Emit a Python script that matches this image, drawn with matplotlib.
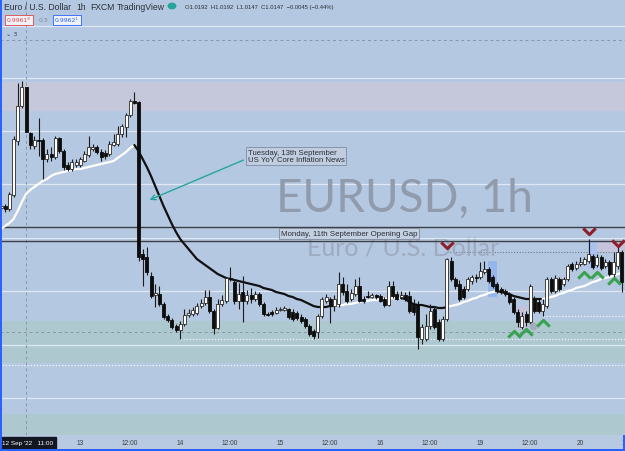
import numpy as np
import matplotlib
matplotlib.use("Agg")
import matplotlib.pyplot as plt
from matplotlib.path import Path
from matplotlib.patches import Rectangle
from matplotlib.transforms import blended_transform_factory

# ---------------- data (EURUSD 1h, FXCM) ----------------
opens = [1.0071, 1.0073, 1.0070, 1.0084, 1.0138, 1.0173, 1.0192, 1.0146, 1.0133, 1.0139,
         1.0139, 1.0120, 1.0125, 1.0122, 1.0141, 1.0128, 1.0114, 1.0110, 1.0114, 1.0114,
         1.0118, 1.0124, 1.0130, 1.0132, 1.0127, 1.0126, 1.0125, 1.0134, 1.0135, 1.0145,
         1.0152, 1.0164, 1.0178, 1.0177, 1.0025, 1.0022, 1.0003, 0.9984, 0.9985, 0.9975,
         0.9963, 0.9959, 0.9953, 0.9949, 0.9955, 0.9964, 0.9965, 0.9966, 0.9973, 0.9976,
         0.9982, 0.9968, 0.9951, 0.9975, 0.9978, 1.0001, 0.9997, 0.9978, 0.9987, 0.9978,
         0.9984, 0.9980, 0.9985, 0.9975, 0.9965, 0.9967, 0.9966, 0.9969, 0.9969, 0.9970,
         0.9967, 0.9966, 0.9962, 0.9960, 0.9953, 0.9948, 0.9947, 0.9963, 0.9978, 0.9980,
         0.9973, 0.9975, 0.9995, 0.9988, 0.9980, 0.9985, 0.9993, 0.9980, 0.9983, 0.9982,
         0.9984, 0.9983, 0.9980, 0.9974, 0.9993, 0.9985, 0.9982, 0.9984, 0.9983, 0.9975,
         0.9975, 0.9940, 0.9940, 0.9953, 0.9970, 0.9957, 0.9940, 0.9960, 1.0018, 1.0000,
         0.9995, 0.9990, 0.9990, 0.9998, 1.0002, 1.0002, 1.0007, 1.0010, 1.0002, 0.9995,
         0.9990, 0.9988, 0.9985, 0.9980, 0.9967, 0.9952, 0.9965, 0.9957, 0.9980, 0.9977,
         0.9968, 0.9973, 1.0000, 0.9988, 1.0000, 0.9995, 1.0000, 1.0015, 1.0011, 1.0015,
         1.0015, 1.0018, 1.0023, 1.0014, 1.0022, 1.0013, 1.0017, 1.0005, 1.0013, 1.0027]
highs = [1.0076, 1.0075, 1.0087, 1.0143, 1.0196, 1.0198, 1.0192, 1.0147, 1.0143, 1.0161,
         1.0141, 1.0130, 1.0132, 1.0143, 1.0142, 1.0130, 1.0117, 1.0120, 1.0120, 1.0122,
         1.0128, 1.0143, 1.0135, 1.0134, 1.0130, 1.0129, 1.0138, 1.0145, 1.0153, 1.0155,
         1.0166, 1.0180, 1.0187, 1.0178, 1.0030, 1.0032, 1.0007, 0.9995, 0.9993, 0.9977,
         0.9965, 0.9961, 0.9955, 0.9958, 0.9970, 0.9970, 0.9972, 0.9976, 0.9980, 0.9989,
         0.9989, 0.9970, 0.9980, 0.9984, 1.0002, 1.0012, 1.0000, 0.9996, 1.0003, 0.9989,
         0.9991, 0.9988, 0.9987, 0.9977, 0.9967, 0.9969, 0.9972, 0.9972, 0.9973, 0.9971,
         0.9970, 0.9968, 0.9965, 0.9962, 0.9955, 0.9950, 0.9965, 0.9982, 0.9985, 0.9982,
         0.9984, 1.0007, 1.0002, 0.9995, 0.9990, 1.0000, 1.0002, 0.9983, 0.9988, 0.9986,
         0.9985, 0.9985, 0.9982, 0.9998, 0.9998, 0.9988, 0.9988, 0.9987, 0.9988, 0.9980,
         0.9978, 0.9955, 0.9965, 0.9975, 0.9973, 0.9960, 0.9963, 1.0021, 1.0022, 1.0002,
         0.9999, 0.9993, 1.0002, 1.0004, 1.0005, 1.0017, 1.0018, 1.0012, 1.0004, 0.9997,
         0.9992, 0.9990, 0.9987, 0.9982, 0.9970, 0.9967, 0.9968, 0.9995, 0.9983, 0.9980,
         0.9980, 1.0002, 1.0002, 1.0004, 1.0002, 1.0002, 1.0015, 1.0017, 1.0018, 1.0022,
         1.0022, 1.0040, 1.0025, 1.0025, 1.0024, 1.0020, 1.0019, 1.0027, 1.0033, 1.0029]
lows = [1.0069, 1.0067, 1.0068, 1.0082, 1.0134, 1.0171, 1.0147, 1.0130, 1.0130, 1.0123,
        1.0100, 1.0117, 1.0118, 1.0120, 1.0126, 1.0109, 1.0108, 1.0108, 1.0112, 1.0112,
        1.0117, 1.0122, 1.0128, 1.0125, 1.0118, 1.0120, 1.0123, 1.0133, 1.0133, 1.0142,
        1.0142, 1.0162, 1.0175, 1.0018, 0.9993, 1.0004, 0.9981, 0.9972, 0.9973, 0.9960,
        0.9957, 0.9950, 0.9947, 0.9940, 0.9953, 0.9962, 0.9963, 0.9964, 0.9971, 0.9974,
        0.9966, 0.9945, 0.9950, 0.9973, 0.9976, 0.9998, 0.9975, 0.9970, 0.9957, 0.9975,
        0.9976, 0.9978, 0.9973, 0.9963, 0.9963, 0.9963, 0.9965, 0.9968, 0.9968, 0.9960,
        0.9958, 0.9959, 0.9956, 0.9951, 0.9943, 0.9940, 0.9941, 0.9961, 0.9976, 0.9956,
        0.9968, 0.9972, 0.9984, 0.9976, 0.9978, 0.9983, 0.9977, 0.9976, 0.9981, 0.9981,
        0.9980, 0.9977, 0.9972, 0.9973, 0.9981, 0.9979, 0.9980, 0.9978, 0.9966, 0.9964,
        0.9930, 0.9935, 0.9938, 0.9950, 0.9950, 0.9938, 0.9938, 0.9958, 0.9998, 0.9990,
        0.9978, 0.9980, 0.9988, 0.9995, 0.9997, 1.0000, 1.0005, 0.9996, 0.9991, 0.9986,
        0.9985, 0.9983, 0.9975, 0.9965, 0.9952, 0.9950, 0.9953, 0.9955, 0.9966, 0.9966,
        0.9963, 0.9971, 0.9986, 0.9986, 0.9988, 0.9993, 0.9998, 1.0008, 1.0009, 1.0013,
        1.0014, 1.0016, 1.0010, 1.0012, 1.0009, 1.0011, 1.0003, 1.0000, 1.0010, 0.9987]
closes = [1.0073, 1.0070, 1.0085, 1.0140, 1.0173, 1.0192, 1.0147, 1.0134, 1.0139, 1.0138,
          1.0120, 1.0125, 1.0122, 1.0141, 1.0128, 1.0112, 1.0110, 1.0117, 1.0117, 1.0120,
          1.0125, 1.0132, 1.0132, 1.0127, 1.0122, 1.0123, 1.0135, 1.0137, 1.0145, 1.0153,
          1.0164, 1.0178, 1.0176, 1.0022, 1.0020, 1.0007, 0.9983, 0.9986, 0.9975, 0.9962,
          0.9959, 0.9952, 0.9949, 0.9955, 0.9964, 0.9966, 0.9969, 0.9973, 0.9976, 0.9982,
          0.9968, 0.9951, 0.9975, 0.9979, 1.0001, 1.0000, 0.9978, 0.9985, 0.9978, 0.9984,
          0.9980, 0.9985, 0.9975, 0.9965, 0.9964, 0.9965, 0.9969, 0.9970, 0.9971, 0.9962,
          0.9960, 0.9961, 0.9958, 0.9953, 0.9945, 0.9943, 0.9963, 0.9980, 0.9982, 0.9973,
          0.9980, 0.9995, 0.9987, 0.9978, 0.9986, 0.9993, 0.9978, 0.9978, 0.9982, 0.9984,
          0.9982, 0.9978, 0.9974, 0.9993, 0.9983, 0.9980, 0.9984, 0.9980, 0.9968, 0.9967,
          0.9942, 0.9952, 0.9953, 0.9968, 0.9952, 0.9940, 0.9960, 1.0020, 1.0000, 0.9993,
          0.9980, 0.9982, 1.0000, 1.0002, 1.0001, 1.0008, 1.0010, 0.9998, 0.9993, 0.9988,
          0.9987, 0.9985, 0.9977, 0.9967, 0.9957, 0.9963, 0.9957, 0.9993, 0.9968, 0.9968,
          0.9975, 1.0000, 0.9988, 1.0001, 0.9990, 1.0000, 1.0013, 1.0010, 1.0015, 1.0017,
          1.0020, 1.0025, 1.0012, 1.0022, 1.0011, 1.0017, 1.0005, 1.0017, 1.0027, 0.9997]
ma_line = [1.0050, 1.0053, 1.0056, 1.0060, 1.0068, 1.0077, 1.0085, 1.0089, 1.0092, 1.0095,
           1.0098, 1.0100, 1.0103, 1.0105, 1.0106, 1.0107, 1.0108, 1.0109, 1.0110, 1.0110,
           1.0111, 1.0112, 1.0113, 1.0114, 1.0115, 1.0116, 1.0117, 1.0118, 1.0121, 1.0124,
           1.0127, 1.0131, 1.0134, 1.0128, 1.0120, 1.0112, 1.0103, 1.0093, 1.0083, 1.0073,
           1.0064, 1.0055, 1.0047, 1.0040, 1.0035, 1.0030, 1.0025, 1.0020, 1.0017, 1.0014,
           1.0011, 1.0008, 1.0005, 1.0003, 1.0001, 1.0000, 0.9999, 0.9998, 0.9997, 0.9996,
           0.9995, 0.9994, 0.9993, 0.9991, 0.9990, 0.9989, 0.9987, 0.9986, 0.9985, 0.9983,
           0.9982, 0.9980, 0.9979, 0.9977, 0.9975, 0.9973, 0.9972, 0.9972, 0.9972, 0.9973,
           0.9973, 0.9974, 0.9974, 0.9975, 0.9975, 0.9976, 0.9977, 0.9978, 0.9978, 0.9979,
           0.9979, 0.9980, 0.9980, 0.9980, 0.9981, 0.9981, 0.9981, 0.9980, 0.9977, 0.9975,
           0.9974, 0.9974, 0.9973, 0.9972, 0.9972, 0.9971, 0.9971, 0.9972, 0.9973, 0.9974,
           0.9975, 0.9977, 0.9978, 0.9980, 0.9981, 0.9983, 0.9984, 0.9986, 0.9987, 0.9988,
           0.9987, 0.9986, 0.9985, 0.9983, 0.9982, 0.9981, 0.9980, 0.9980, 0.9980, 0.9980,
           0.9980, 0.9981, 0.9982, 0.9983, 0.9985, 0.9986, 0.9988, 0.9989, 0.9991, 0.9992,
           0.9993, 0.9995, 0.9997, 0.9998, 1.0000, 1.0001, 1.0002, 1.0003, 1.0005, 1.0006]
ma_flip_at = [32, 80, 96, 107, 119, 130]      # trend colour changes (starts up/white)

time_tick_idx = [19, 31, 43, 55, 67, 79, 91, 103, 115, 127, 139, 151]
time_tick_labels = ["13", "12:00", "14", "12:00", "15", "12:00", "16", "12:00",
                    "19", "12:00", "20", "12:00"]
cursor_idx = 6
cursor_label = "12 Sep '22   11:00"

supply_zone = (1.0168, 1.0197)
demand_zone = (0.9916, 0.9958)
lower_zone = (0.9844, 0.9865)
light_levels = [1.0253, 1.0201, 1.0148, 1.0095, 0.9988, 0.9934, 0.9881]
gap_levels = [1.0052, 1.0038]
gap_inner = 1.0041
dashed_levels = [1.0239, 0.9947]
white_dotted = [(43, 0.9940), (130, 0.9963), (-1, 0.9914)]
gray_dotted = [(107, 1.0027)]

sell_idx = [107, 141, 148]
sell_px = [1.0034, 1.0048, 1.0036]
buy_idx = [123, 126, 130, 140, 143, 147]
buy_px = [0.9945, 0.9947, 0.9956, 1.0004, 1.0004, 0.9998]

# ---------------- figure ----------------
W, H = 625, 452
fig = plt.figure(figsize=(W / 100, H / 100), dpi=100)
fig.patch.set_facecolor("#b7cae2")
ax = fig.add_axes([0, 16 / H, 1, 436 / H])
ax.set_facecolor("#b5c8e1")
for s in ax.spines.values():
    s.set_visible(False)
ax.set_xticks([])
ax.set_yticks([])
ax.set_xlim(-0.24, 149.76)
ax.set_ylim(0.9844, 1.0280)
XL = (-1, 152)

o = np.array(opens); h = np.array(highs); l = np.array(lows); c = np.array(closes)
idx = np.arange(len(o))

# zones
ax.axhspan(*supply_zone, color="#c5c7db", zorder=0, lw=0)
ax.axhspan(*demand_zone, color="#adc9cf", zorder=0, lw=0)
ax.axhspan(*lower_zone, color="#adc9cf", zorder=0, lw=0)
for lv in light_levels:
    ax.axhline(lv, color="#dfe8f3", lw=0.9, zorder=1)
for lv in dashed_levels:
    ax.axhline(lv, color="#8995a8", lw=0.7, ls=(0, (3, 3)), zorder=1)
for st, lv in white_dotted:
    ax.hlines(lv, st, XL[1], color="#f2f6fb", lw=0.9, ls=(0, (1, 1.5)), zorder=1)
for st, lv in gray_dotted:
    ax.hlines(lv, st, XL[1], color="#6f7a8a", lw=0.8, ls=(0, (1, 1.5)), zorder=1)
ax.axvline(cursor_idx, color="#8995a8", lw=0.7, ls=(0, (3, 3)), zorder=1)

# watermark
ax.text(66.0, 1.0068, "EURUSD, 1h", fontsize=33, family="Lato", color="#909cae",
        va="baseline", ha="left", zorder=2)
ax.text(73.5, 1.0024, "Euro / U.S. Dollar", fontsize=18, family="Lato", color="#9eabbf",
        va="baseline", ha="left", zorder=2)

# opening gap
ax.axhline(gap_levels[0], color="#3c3f46", lw=1.0, zorder=3)
ax.axhline(gap_inner, color="#dfe8f3", lw=0.8, zorder=3)
ax.axhline(gap_levels[1], color="#3c3f46", lw=1.0, zorder=3)
ax.text(67.2, 1.00455, "Monday, 11th September Opening Gap", fontsize=5.7,
        family="Liberation Sans", color="#2b2f36", va="center", ha="left", zorder=6,
        bbox=dict(boxstyle="square,pad=0.25", fc="#c3d0e2", ec="#7f8b9c", lw=0.6))

# shaded boxes
ax.add_patch(Rectangle((116.9, 0.9982), 2.1, 0.0036, color="#96b5ea", zorder=2, lw=0))
ax.add_patch(Rectangle((142.0, 1.0027), 7.5, 0.0011, color="#c6c3dc", zorder=2, lw=0))
ax.add_patch(Rectangle((140.9, 1.0010), 2.1, 0.0028, color="#a9c2ee", zorder=2, lw=0))
ax.add_patch(Rectangle((123.8, 0.9950), 2.4, 0.0022, color="#c6c2d8", zorder=2, lw=0))

# trend line
bounds = [0] + ma_flip_at + [len(ma_line) - 1]
ma = np.array(ma_line)
for k in range(len(bounds) - 1):
    s, e = bounds[k], bounds[k + 1]
    col = "#ffffff" if k % 2 == 0 else "#111111"
    ax.plot(idx[s:e + 1], ma[s:e + 1], color=col, lw=1.6, zorder=3,
            solid_capstyle="round")

# candles
up = c >= o
bot = np.minimum(o, c)
hgt = np.maximum(np.abs(c - o), 0.00008)
ax.vlines(idx, l, h, color="#1b1b1b", lw=0.8, zorder=4)
ax.bar(idx[up], hgt[up], bottom=bot[up], width=0.72, color="#ffffff",
       edgecolor="#2a2a2a", lw=0.6, zorder=5)
ax.bar(idx[~up], hgt[~up], bottom=bot[~up], width=0.72, color="#0d0d0d",
       edgecolor="#0d0d0d", lw=0.6, zorder=5)

# signals
v_path = Path([(-1, 0.5), (0, -0.5), (1, 0.5)], [Path.MOVETO, Path.LINETO, Path.LINETO])
a_path = Path([(-1, -0.5), (0, 0.5), (1, -0.5)], [Path.MOVETO, Path.LINETO, Path.LINETO])
ax.plot(sell_idx, sell_px, ls="none", marker=v_path, ms=9, mew=2.2, mfc="none",
        mec="#8e1f2a", zorder=7)
ax.plot(buy_idx, buy_px, ls="none", marker=a_path, ms=9, mew=2.2, mfc="none",
        mec="#3aa24f", zorder=7)
ax.plot([127.7], [0.9953], "o", ms=4.5, color="#a3acbb", zorder=6)

# news annotation
ax.annotate("", xy=(35.0, 1.0078), xytext=(58.8, 1.0120),
            arrowprops=dict(arrowstyle="->", color="#26a69a", lw=1.0,
                            mutation_scale=9), zorder=6)
ax.text(59.2, 1.0123, "Tuesday, 13th September\nUS YoY Core Inflation News",
        fontsize=5.6, family="Liberation Sans", color="#2b2f36", va="center",
        ha="left", linespacing=1.05, zorder=6,
        bbox=dict(boxstyle="square,pad=0.25", fc="#c0cde0", ec="#7f8b9c", lw=0.6))

# time axis
tr = blended_transform_factory(ax.transData, ax.transAxes)
for ti, tl in zip(time_tick_idx, time_tick_labels):
    ax.text(ti, -0.018, tl, transform=tr, fontsize=4.8, family="Liberation Sans",
            color="#3a3f48", ha="center", va="center", clip_on=False)
ax.text(cursor_idx + 0.4, -0.018, cursor_label, transform=tr, fontsize=4.6,
        family="Liberation Sans", color="#ffffff", ha="center", va="center",
        clip_on=False, zorder=8,
        bbox=dict(boxstyle="square,pad=0.45", fc="#131722", ec="#131722"))

# header
def fx(px):
    return px / W

def fy(py):
    return 1 - py / H

hdr = dict(family="Liberation Sans", color="#2b2f36", va="center", ha="left")
fig.text(fx(4), fy(7), "Euro / U.S. Dollar", fontsize=6.2, **hdr)
fig.text(fx(76), fy(7), "1h", fontsize=6.2, **hdr)
fig.text(fx(90), fy(7), "FXCM", fontsize=6.2, **hdr)
fig.text(fx(117), fy(7), "TradingView", fontsize=6.2, **hdr)
fig.text(fx(185), fy(7), "O1.0192  H1.0192  L1.0147  C1.0147  \u22120.0045 (\u22120.44%)",
         fontsize=4.2, **hdr)
fig.add_artist(plt.Circle((fx(172), fy(7)), 0.006, transform=fig.transFigure,
                          color="#26a69a"))
fig.text(fx(7), fy(21), "0.9961\u2078", fontsize=4.4, family="DejaVu Sans",
         color="#e0474c", va="center", ha="left",
         bbox=dict(boxstyle="square,pad=0.35", fc="#eef1f6", ec="#e0474c", lw=0.6))
fig.text(fx(39), fy(21), "0.3", fontsize=4.4, family="DejaVu Sans", color="#7d8796",
         va="center", ha="left")
fig.text(fx(55), fy(21), "0.9962\u00b9", fontsize=4.4, family="DejaVu Sans",
         color="#2962ff", va="center", ha="left",
         bbox=dict(boxstyle="square,pad=0.35", fc="#eef1f6", ec="#2962ff", lw=0.6))
fig.text(fx(6), fy(34), "\u2304 3", fontsize=4.6, family="DejaVu Sans", color="#3a3f48",
         va="center", ha="left")

# selection frame
fig.add_artist(Rectangle((0, 0), 2.2 / W, 1, transform=fig.transFigure, color="#2962ff", lw=0))
fig.add_artist(Rectangle((0, 0), 1, 2 / H, transform=fig.transFigure, color="#2962ff", lw=0))
fig.add_artist(Rectangle((1 - 2 / W, 0), 2 / W, 16 / H, transform=fig.transFigure,
                         color="#2962ff", lw=0))

fig.savefig("out.png", dpi=100, facecolor=fig.get_facecolor())
